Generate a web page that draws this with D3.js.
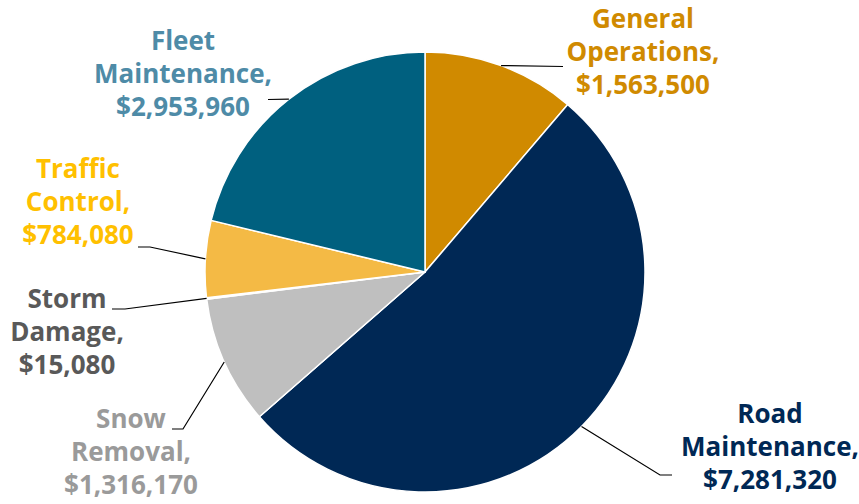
<!DOCTYPE html>
<html>
<head>
<meta charset="utf-8">
<script src="https://cdn.jsdelivr.net/npm/d3@7"></script>
<style>
  html, body { margin: 0; padding: 0; background: #ffffff; }
  svg { display: block; }
  text { font-family: "Open Sans", "Noto Sans", sans-serif; font-weight: 700; }
</style>
</head>
<body>
<svg id="chart" width="859" height="504"></svg>
<script>
// Budget by program area
const categories = ["General Operations", "Road Maintenance", "Snow Removal", "Storm Damage", "Traffic Control", "Fleet Maintenance"];
const amounts = [1563500, 7281320, 1316170, 15080, 784080, 2953960];
const sliceColors = ["#D08A00", "#002855", "#BFBFBF", "#7F7F7F", "#F4BA45", "#00607F"];
const labelColors = ["#D08A00", "#002855", "#9A9A9A", "#595959", "#FFC000", "#4E8BA7"];
// Label text split into lines
const labelLines = [
  ["General", "Operations,"],
  ["Road", "Maintenance,"],
  ["Snow", "Removal,"],
  ["Storm", "Damage,"],
  ["Traffic", "Control,"],
  ["Fleet", "Maintenance,"]
];

const fmt = d3.format("$,");
const svg = d3.select("#chart");
const cx = 425, cy = 272, R = 220;

// Label placement: text centre, first baseline, elbow and line end
const layout = [
  { tx: 643, ty: 28,  elbow: [563, 66.5],  end: null },
  { tx: 770, ty: 423, elbow: [660, 475],   end: [672, 475] },
  { tx: 131, ty: 428, elbow: [183, 429],   end: [172, 429] },
  { tx: 67,  ty: 308, elbow: [125, 309],   end: [112, 309] },
  { tx: 78,  ty: 178, elbow: [150, 247],   end: [138, 247] },
  { tx: 183, ty: 50,  elbow: [268, 99.5],  end: null }
];

const data = categories.map((c, i) => ({ name: c, value: amounts[i], i }));

const pie = d3.pie().sort(null).value(d => d.value);
const arcs = pie(data);
const arc = d3.arc().innerRadius(0).outerRadius(R);

const g = svg.append("g").attr("transform", `translate(${cx},${cy})`);

g.selectAll("path.slice")
  .data(arcs)
  .enter().append("path")
  .attr("class", "slice")
  .attr("d", arc)
  .attr("fill", d => sliceColors[d.data.i])
  .attr("stroke", "#ffffff")
  .attr("stroke-width", 1.5)
  .attr("stroke-linejoin", "round");

// Leader lines from slice mid-angle on the rim
const leaders = svg.append("g");
arcs.forEach(a => {
  const L = layout[a.data.i];
  const mid = (a.startAngle + a.endAngle) / 2;
  const px = cx + R * Math.sin(mid), py = cy - R * Math.cos(mid);
  const pts = [[px, py], L.elbow];
  if (L.end) pts.push(L.end);
  leaders.append("path")
    .attr("d", d3.line()(pts))
    .attr("fill", "none")
    .attr("stroke", "#000000")
    .attr("stroke-width", 1.2);
});

// Labels
const labels = svg.append("g");
arcs.forEach(a => {
  const i = a.data.i;
  const L = layout[i];
  const lines = labelLines[i].concat([fmt(a.data.value)]);
  const t = labels.append("text")
    .attr("x", L.tx)
    .attr("y", L.ty)
    .attr("text-anchor", "middle")
    .attr("font-size", 26)
    .attr("fill", labelColors[i]);
  lines.forEach((s, k) => {
    t.append("tspan").attr("x", L.tx).attr("dy", k === 0 ? 0 : 33).text(s);
  });
});
</script>
</body>
</html>
